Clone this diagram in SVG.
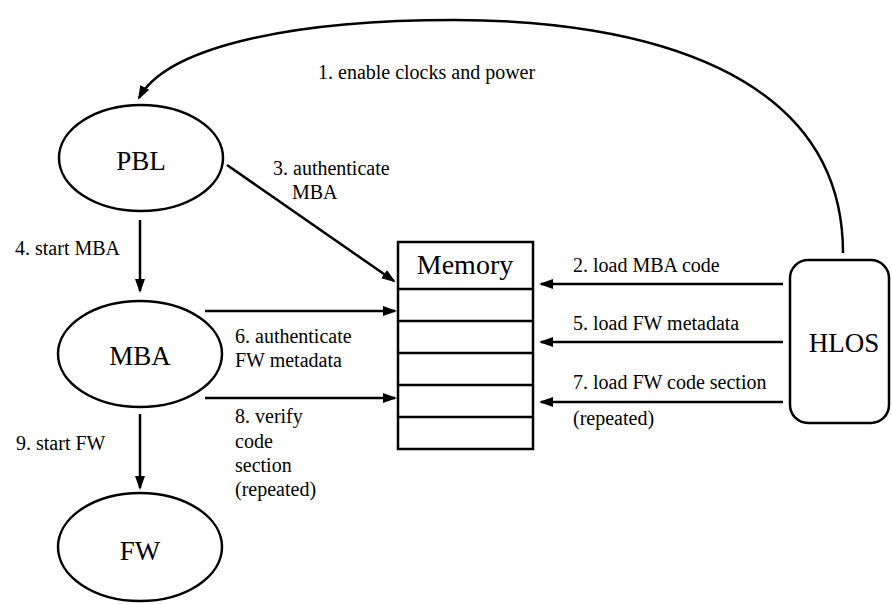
<svg xmlns="http://www.w3.org/2000/svg" width="892" height="604" viewBox="0 0 892 604">
<style>
.n{fill:#fff;stroke:#000;stroke-width:2.5}
.c{fill:none;stroke:#000;stroke-width:2.5}
.t{font-family:'Liberation Serif','DejaVu Serif','Times New Roman',serif;font-size:27px;fill:#000;text-anchor:middle}
.l{font-family:'Liberation Serif','DejaVu Serif','Times New Roman',serif;font-size:20px;fill:#000}
</style>
<defs>
<marker id="ah" markerUnits="userSpaceOnUse" markerWidth="16" markerHeight="12" refX="12" refY="5" orient="auto">
<path d="M0,0 L14,5 L0,10 z" fill="#000"/>
</marker>
</defs>
<rect width="892" height="604" fill="#fff"/>
<g id="PBL"><ellipse class="n" cx="141" cy="158" rx="82" ry="53"/><text class="t" x="141" y="170">PBL</text></g>
<g id="MBA"><ellipse class="n" cx="140" cy="354" rx="82" ry="53"/><text class="t" x="140" y="365">MBA</text></g>
<g id="FW"><ellipse class="n" cx="140" cy="547" rx="82" ry="54"/><text class="t" x="140" y="560">FW</text></g>
<g id="HLOS"><rect class="n" x="790" y="260" width="99" height="163" rx="18"/><text class="t" x="844" y="352">HLOS</text></g>
<g id="Memory">
<rect class="n" x="398" y="242" width="135" height="207"/>
<path class="c" d="M398 289H533M398 321H533M398 353H533M398 385H533M398 417H533"/>
<text class="t" x="465" y="274" style="font-size:28px">Memory</text>
</g>
<g id="connectors">
<path class="c" marker-end="url(#ah)" d="M843 253 C843 70 640 20 455 20 C280 20 165 50 139 98"/>
<line class="c" marker-end="url(#ah)" x1="227" y1="165" x2="394" y2="281"/>
<line class="c" marker-end="url(#ah)" x1="140" y1="220" x2="140" y2="291"/>
<line class="c" marker-end="url(#ah)" x1="205" y1="311" x2="395" y2="311"/>
<line class="c" marker-end="url(#ah)" x1="205" y1="398" x2="395" y2="398"/>
<line class="c" marker-end="url(#ah)" x1="140" y1="414" x2="140" y2="488"/>
<line class="c" marker-end="url(#ah)" x1="783" y1="284" x2="541" y2="284"/>
<line class="c" marker-end="url(#ah)" x1="783" y1="342" x2="541" y2="342"/>
<line class="c" marker-end="url(#ah)" x1="783" y1="402" x2="541" y2="402"/>
</g>
<g id="labels">
<text class="l" x="318" y="79">1. enable clocks and power</text>
<text class="l" x="273" y="175">3. authenticate</text>
<text class="l" x="292" y="199">MBA</text>
<text class="l" x="15" y="255">4. start MBA</text>
<text class="l" x="235" y="343">6. authenticate</text>
<text class="l" x="235" y="367">FW metadata</text>
<text class="l" x="235" y="423">8. verify</text>
<text class="l" x="235" y="448">code</text>
<text class="l" x="235" y="472">section</text>
<text class="l" x="235" y="496">(repeated)</text>
<text class="l" x="16" y="450">9. start FW</text>
<text class="l" x="573" y="272">2. load MBA code</text>
<text class="l" x="573" y="330">5. load FW metadata</text>
<text class="l" x="573" y="389">7. load FW code section</text>
<text class="l" x="573" y="425">(repeated)</text>
</g>
</svg>
